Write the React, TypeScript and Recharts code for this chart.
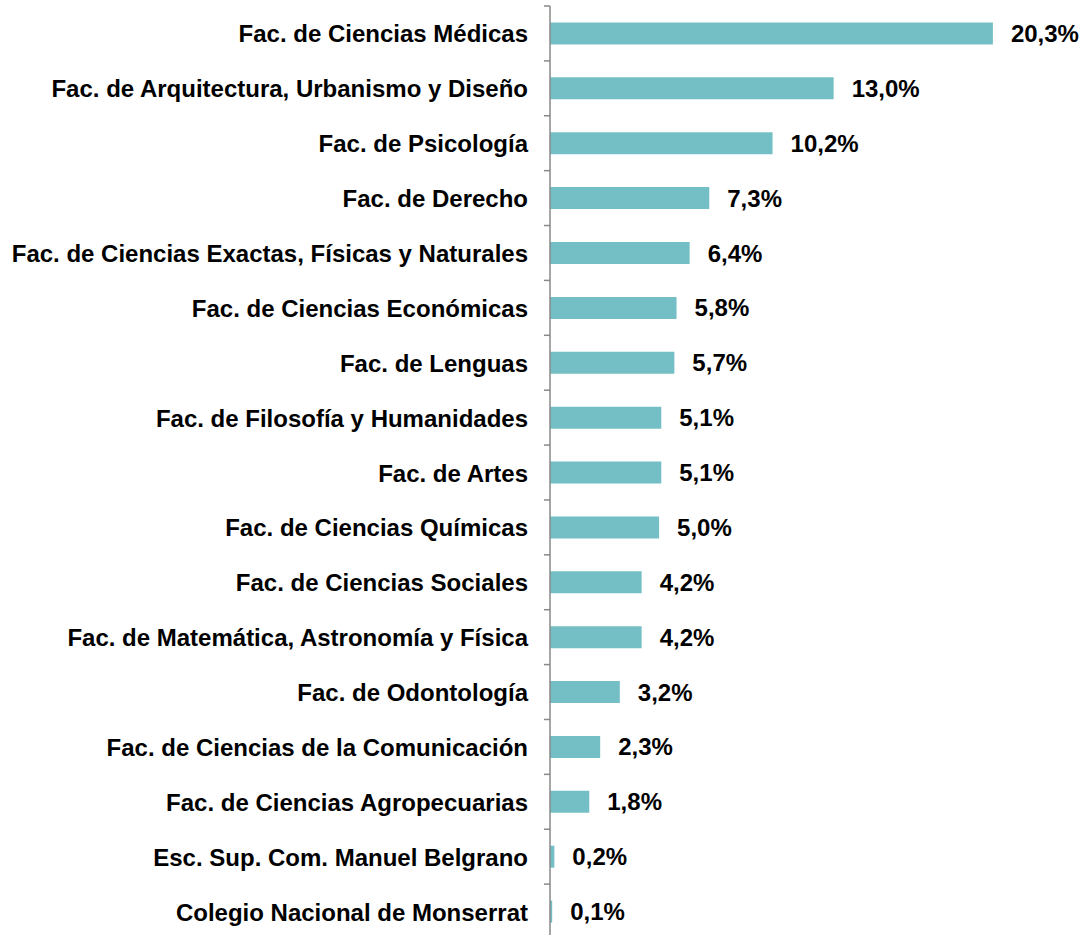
import { BarChart, Bar, XAxis, YAxis, LabelList } from "recharts";

const faculties = [
  "Fac. de Ciencias Médicas",
  "Fac. de Arquitectura, Urbanismo y Diseño",
  "Fac. de Psicología",
  "Fac. de Derecho",
  "Fac. de Ciencias Exactas, Físicas y Naturales",
  "Fac. de Ciencias Económicas",
  "Fac. de Lenguas",
  "Fac. de Filosofía y Humanidades",
  "Fac. de Artes",
  "Fac. de Ciencias Químicas",
  "Fac. de Ciencias Sociales",
  "Fac. de Matemática, Astronomía y Física",
  "Fac. de Odontología",
  "Fac. de Ciencias de la Comunicación",
  "Fac. de Ciencias Agropecuarias",
  "Esc. Sup. Com. Manuel Belgrano",
  "Colegio Nacional de Monserrat",
];

const shares = [20.3, 13.0, 10.2, 7.3, 6.4, 5.8, 5.7, 5.1, 5.1, 5.0, 4.2, 4.2, 3.2, 2.3, 1.8, 0.2, 0.1];

const data = faculties.map((name, i) => ({ name, value: shares[i] }));

const FONT = "'Liberation Sans', Arial, sans-serif";
const AXIS = "#898989";
const BAND = 933 / faculties.length;

function CategoryTick(props: any) {
  const { x, y, payload, index } = props;
  return (
    <g>
      <line x1={x} x2={x - 6} y1={y + BAND / 2} y2={y + BAND / 2} stroke={AXIS} strokeWidth={1.5} />
      {index === 0 && (
        <line x1={x} x2={x - 6} y1={y - BAND / 2} y2={y - BAND / 2} stroke={AXIS} strokeWidth={1.5} />
      )}
      <text x={x - 22} y={y} dy={9} textAnchor="end" fontFamily={FONT} fontWeight="bold" fontSize={24} fill="#000">
        {payload.value}
      </text>
    </g>
  );
}

export default function App() {
  return (
    <div style={{ position: "absolute", left: 0, top: 0 }}>
      <BarChart
        width={1086}
        height={945}
        data={data}
        layout="vertical"
        margin={{ top: 6, right: 56, bottom: 6, left: 0 }}
        barCategoryGap="30%"
      >
        <XAxis type="number" domain={[0, 22]} hide />
        <YAxis
          type="category"
          dataKey="name"
          width={550}
          interval={0}
          tickLine={false}
          tickSize={0}
          tickMargin={0}
          axisLine={{ stroke: AXIS, strokeWidth: 1.5 }}
          tick={<CategoryTick />}
        />
        <Bar dataKey="value" fill="#74BFC5" isAnimationActive={false}>
          <LabelList
            dataKey="value"
            position="right"
            offset={18}
            formatter={(v: any) => `${Number(v).toFixed(1).replace(".", ",")}%`}
            style={{ fontFamily: FONT, fontWeight: "bold", fontSize: 24, fill: "#000" }}
          />
        </Bar>
      </BarChart>
    </div>
  );
}
